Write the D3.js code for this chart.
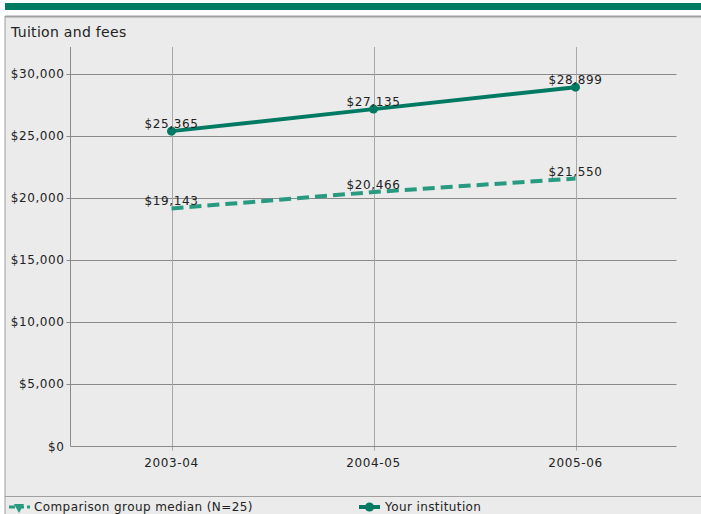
<!DOCTYPE html>
<html><head><meta charset="utf-8">
<script src="https://cdn.jsdelivr.net/npm/d3@7"></script>
<style>
body{margin:0;background:#fff;}
svg{display:block;}
text{font-family:"DejaVu Sans",Verdana,sans-serif;}
</style></head>
<body>
<svg id="c" width="701" height="514"></svg>
<script>
const categories = ["2003-04","2004-05","2005-06"];
const yourInstitution = [25365, 27135, 28899];
const comparisonMedian = [19143, 20466, 21550];
const yTicks = [0,5000,10000,15000,20000,25000,30000];
const seriesNames = ["Comparison group median (N=25)","Your institution"];

const svg = d3.select("#c");
const W = 701, H = 514;
const darkGreen = "#007a63", lightGreen = "#289a80";

svg.append("rect").attr("x",5).attr("y",3).attr("width",W-5).attr("height",7).attr("fill",darkGreen);
svg.append("rect").attr("x",5).attr("y",16.5).attr("width",W).attr("height",H).attr("fill","#ebebeb").attr("stroke","#a0a0a0").attr("stroke-width",1);
svg.append("line").attr("x1",5).attr("x2",W).attr("y1",16.5).attr("y2",16.5).attr("stroke","#a0a0a0").attr("stroke-width",2);

svg.append("text").attr("x",11).attr("y",37).attr("font-size",14).attr("letter-spacing",0.3).attr("fill","#222").text("Tuition and fees");

const m = {l:70.5, r:676.5, t:47, b:446.5};
const x = d3.scalePoint().domain(categories).range([m.l, m.r]).padding(0.5);
const y = d3.scaleLinear().domain([0,30000]).range([m.b, 73.5]);

svg.append("g").selectAll("line").data(yTicks.filter(d=>d>0)).join("line")
  .attr("x1",m.l-4).attr("x2",m.r).attr("y1",d=>Math.round(y(d))+0.5).attr("y2",d=>Math.round(y(d))+0.5)
  .attr("stroke","#8a8a8a").attr("stroke-width",1);
svg.append("g").selectAll("line").data(categories).join("line")
  .attr("x1",d=>Math.round(x(d))+0.5).attr("x2",d=>Math.round(x(d))+0.5).attr("y1",m.t).attr("y2",m.b+4)
  .attr("stroke","#a8a8a8").attr("stroke-width",1);
svg.append("line").attr("x1",m.l).attr("x2",m.l).attr("y1",m.t).attr("y2",m.b).attr("stroke","#8a8a8a");
svg.append("line").attr("x1",m.l).attr("x2",m.r).attr("y1",m.b).attr("y2",m.b).attr("stroke","#8a8a8a");

const fmt = d3.format("$,");
svg.append("g").selectAll("text").data(yTicks).join("text")
  .attr("x",m.l-6).attr("y",d=>y(d)+4).attr("text-anchor","end").attr("font-size",12).attr("letter-spacing",0.6).attr("fill","#222")
  .text(d=>fmt(d));
svg.append("g").selectAll("text").data(categories).join("text")
  .attr("x",d=>x(d)).attr("y",m.b+20).attr("text-anchor","middle").attr("font-size",12).attr("letter-spacing",0.6).attr("fill","#222")
  .text(d=>d);

const line = d3.line().x((d,i)=>x(categories[i])).y(d=>y(d));

svg.append("path").datum(comparisonMedian).attr("d",line).attr("fill","none")
  .attr("stroke",lightGreen).attr("stroke-width",4).attr("stroke-dasharray","12,6");
svg.append("path").datum(yourInstitution).attr("d",line).attr("fill","none")
  .attr("stroke",darkGreen).attr("stroke-width",4);
svg.append("g").selectAll("circle").data(yourInstitution).join("circle")
  .attr("cx",(d,i)=>x(categories[i])).attr("cy",d=>y(d)).attr("r",4.5).attr("fill",darkGreen);

function labels(data){
  svg.append("g").selectAll("text").data(data).join("text")
    .attr("x",(d,i)=>x(categories[i])).attr("y",d=>y(d)-3).attr("text-anchor","middle")
    .attr("font-size",12).attr("letter-spacing",0.6).attr("fill","#222").text(d=>fmt(d));
}
labels(yourInstitution);
labels(comparisonMedian);

svg.append("line").attr("x1",5).attr("x2",W).attr("y1",496.5).attr("y2",496.5).attr("stroke","#a0a0a0");
const lg = svg.append("g");
lg.append("line").attr("x1",9).attr("x2",30).attr("y1",507).attr("y2",507).attr("stroke",lightGreen).attr("stroke-width",3).attr("stroke-dasharray","6,3");
lg.append("path").attr("d",d3.symbol(d3.symbolTriangle,45)()).attr("transform","translate(19,507) rotate(180)").attr("fill",lightGreen);
lg.append("text").attr("x",34).attr("y",511).attr("font-size",12).attr("letter-spacing",0.4).attr("fill","#222").text(seriesNames[0]);
lg.append("line").attr("x1",359).attr("x2",380).attr("y1",507).attr("y2",507).attr("stroke",darkGreen).attr("stroke-width",4);
lg.append("circle").attr("cx",369.5).attr("cy",507).attr("r",4.5).attr("fill",darkGreen);
lg.append("text").attr("x",385).attr("y",511).attr("font-size",12).attr("letter-spacing",0.4).attr("fill","#222").text(seriesNames[1]);
</script>
</body></html>
